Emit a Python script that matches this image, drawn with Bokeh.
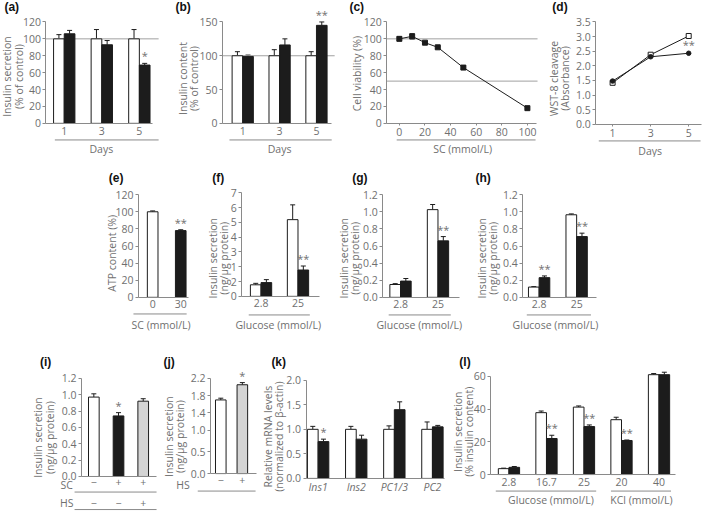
import math
from bokeh.plotting import figure
from bokeh.layouts import row, column
from bokeh.models import (Range1d, FixedTicker, NumeralTickFormatter, Whisker, TeeHead,
                          ColumnDataSource)
from bokeh.core.properties import value
from bokeh.embed import file_html
from bokeh.resources import INLINE

# ---------------- data ----------------
days = ["1", "3", "5"]
a_ctrl = [100, 100, 100]
a_ctrl_err = [5, 11, 11]
a_sc = [106, 93, 69]
a_sc_err = [4, 5, 2]
a_sig = ["", "", "*"]

b_ctrl = [100, 100, 100]
b_ctrl_err = [6, 9, 6]
b_sc = [99, 116, 145]
b_sc_err = [2, 9, 5]
b_sig = ["", "", "**"]

c_conc = [0, 10, 20, 30, 50, 100]
c_viab = [100, 103, 95.5, 90, 66, 18]
c_err = [2, 3, 1, 1, 1.5, 1]

d_ctrl = [1.42, 2.38, 3.02]
d_sc = [1.48, 2.31, 2.43]
d_sig = ["", "", "**"]

e_conc = ["0", "30"]
e_atp = [100, 78]
e_err = [1, 1]
e_sig = ["", "**"]

glucose = ["2.8", "25"]
f_ctrl = [0.78, 5.18]
f_ctrl_err = [0.1, 1.0]
f_sc = [0.93, 1.78]
f_sc_err = [0.2, 0.27]
f_sig = ["", "**"]
f_ytick_labels = ["0", "2", "1", "3", "4", "5", "6", "7"]  # as printed in the figure

g_ctrl = [0.15, 1.025]
g_ctrl_err = [0.01, 0.06]
g_sc = [0.19, 0.66]
g_sc_err = [0.03, 0.05]
g_sig = ["", "**"]

h_ctrl = [0.12, 0.965]
h_ctrl_err = [0.005, 0.01]
h_sc = [0.23, 0.71]
h_sc_err = [0.02, 0.04]
h_sig = ["**", "**"]

i_sc_row = ["\u2212", "+", "+"]
i_hs_row = ["\u2212", "\u2212", "+"]
i_vals = [0.97, 0.74, 0.92]
i_err = [0.04, 0.04, 0.03]
i_sig = ["", "*", ""]

j_hs_row = ["\u2212", "+"]
j_vals = [1.70, 2.05]
j_err = [0.04, 0.05]
j_sig = ["", "*"]

genes = ["Ins1", "Ins2", "PC1/3", "PC2"]
k_ctrl = [1.0, 1.0, 1.0, 1.0]
k_ctrl_err = [0.06, 0.06, 0.07, 0.15]
k_sc = [0.75, 0.80, 1.40, 1.05]
k_sc_err = [0.05, 0.08, 0.16, 0.03]
k_sig = ["*", "", "", ""]

l_conc = ["2.8", "16.7", "25", "20", "40"]
l_ctrl = [3.6, 37.8, 41.2, 33.5, 61.0]
l_ctrl_err = [0.3, 1.0, 0.7, 1.5, 0.7]
l_sc = [4.4, 22.0, 29.3, 20.8, 61.0]
l_sc_err = [0.5, 2.0, 1.0, 0.3, 1.5]
l_sig = ["", "**", "**", "**", ""]

# ---------------- styling ----------------
FONT = "Open Sans"
TXT = "#6f6f6f"
AXC = "#8a8a8a"
INK = "#1c1c1c"
GRAYBAR = "#d4d4d4"
FS = "10.5px"
TITLE_SHIFT = 9   # vertical correction for rotated axis titles (reference px)

SX = 704 / 714
SY = 511 / 524


def px(X):
    return int(round((X - 3) * SX))


def py(Y):
    return int(round((Y - 3) * SY))


class Panel:
    """One panel; its frame covers the whole figure box, axes sit at fixed locations."""

    def __init__(self, box, frame, xmap, ymap, ytop, yticks, yfmt=None, ylabels=None):
        L, R, T, B = box
        fl, fr, ft, fb = frame
        (Xa, va), (Xb, vb) = xmap
        (Ya, ua), (Yb, ub) = ymap
        self.kx = (vb - va) / (Xb - Xa)
        self.ky = (ub - ua) / (Yb - Ya)
        self.Xa, self.va, self.Ya, self.ua = Xa, va, Ya, ua
        p = figure(width=px(R) - px(L), height=py(B) - py(T),
                   x_range=Range1d(self.dx(L), self.dx(R)),
                   y_range=Range1d(self.dy(B), self.dy(T)),
                   min_border_left=0, min_border_right=0,
                   min_border_top=0, min_border_bottom=0,
                   output_backend="svg", toolbar_location=None, title=None)
        p.xgrid.visible = False
        p.ygrid.visible = False
        p.outline_line_color = None
        for ax in (p.xaxis[0], p.yaxis[0]):
            ax.axis_line_color = AXC
            ax.axis_line_width = 1
            ax.major_tick_line_color = AXC
            ax.minor_tick_line_color = None
            ax.major_label_text_font = FONT
            ax.major_label_text_font_size = FS
            ax.major_label_text_color = TXT
        ya = p.yaxis[0]
        ya.fixed_location = self.dx(fl)
        ya.ticker = FixedTicker(ticks=yticks)
        ya.bounds = (0, ytop)
        ya.major_tick_out = 3
        ya.major_tick_in = 0
        ya.major_label_standoff = 2
        if yfmt:
            ya.formatter = NumeralTickFormatter(format=yfmt)
        if ylabels:
            ya.major_label_overrides = {t: s for t, s in zip(yticks, ylabels)}
        xa = p.xaxis[0]
        xa.fixed_location = self.dy(fb)
        xa.bounds = (self.dx(fl), self.dx(fr))
        self.p = p

    def dx(self, X):
        return self.va + (X - self.Xa) * self.kx

    def dy(self, Y):
        return self.ua + (Y - self.Ya) * self.ky

    def xcat(self, labels, standoff=4, italic=False):
        xa = self.p.xaxis[0]
        xa.ticker = FixedTicker(ticks=list(range(len(labels))))
        xa.major_label_overrides = {i: s for i, s in enumerate(labels)}
        xa.major_tick_out = 0
        xa.major_tick_in = 0
        xa.major_label_standoff = standoff
        if italic:
            xa.major_label_text_font_style = "italic"

    def xnum(self, ticks, standoff=3):
        xa = self.p.xaxis[0]
        xa.ticker = FixedTicker(ticks=ticks)
        xa.major_tick_out = 2
        xa.major_tick_in = 0
        xa.major_label_standoff = standoff

    def bars(self, pos, vals, errs, fill, width_px=10.8):
        fills = fill if isinstance(fill, list) else [fill] * len(vals)
        src = ColumnDataSource(dict(x=list(pos), top=vals,
                                    up=[v + e for v, e in zip(vals, errs)], fill=fills))
        self.p.vbar(x="x", top="top", bottom=0, width=width_px * self.kx, source=src,
                    fill_color="fill", line_color=INK, line_width=1)
        self.p.add_layout(Whisker(source=src, base="x", lower="top", upper="up",
                                  line_color=INK, line_width=1, lower_head=None,
                                  upper_head=TeeHead(size=5, line_color=INK, line_width=1)))

    def stars(self, pos, vals, errs, sig):
        src = ColumnDataSource(dict(x=list(pos), y=[v + e for v, e in zip(vals, errs)], t=sig))
        self.p.text(x="x", y="y", text="t", source=src, text_align="center",
                    text_baseline="bottom", text_font=value(FONT),
                    text_font_size=value("11px"), text_color=TXT)

    def row_labels(self, pos, Y, texts):
        src = ColumnDataSource(dict(x=list(pos), y=[self.dy(Y)] * len(texts), t=texts))
        self.p.text(x="x", y="y", text="t", source=src, text_align="center",
                    text_baseline="middle", text_font=value(FONT),
                    text_font_size=value(FS), text_color=TXT)

    def label(self, X, Y, s, align="center", size=FS, color=TXT, angle=0,
              style="normal", font=FONT):
        self.p.text(x=[self.dx(X)], y=[self.dy(Y)], text=[s], text_align=align,
                    text_baseline="middle", angle=angle, text_font=value(font),
                    text_font_size=value(size), text_color=color,
                    text_font_style=style)

    def tag(self, X, Y, s):
        self.label(X, Y, s, align="left", size="12px", color="#111111",
                   font="Liberation Sans", style="bold")

    def ytitle(self, X, Y, lines, gap=11.5):
        n = len(lines)
        for i, s in enumerate(lines):
            self.label(X + (i - (n - 1) / 2) * gap, Y + TITLE_SHIFT, s, angle=math.pi / 2)

    def line(self, X1, X2, Y):
        self.p.segment(x0=[self.dx(X1)], y0=[self.dy(Y)], x1=[self.dx(X2)], y1=[self.dy(Y)],
                       line_color=AXC, line_width=1)

    def hline(self, v, X1, X2):
        self.p.segment(x0=[self.dx(X1)], y0=[v], x1=[self.dx(X2)], y1=[v],
                       line_color="#a0a0a0", line_width=1)


def dodge(n, P):
    off = 5.4 * P.kx
    return [i - off for i in range(n)], [i + off for i in range(n)]


SEC_NG = ["Insulin secretion", "(ng/\u03bcg protein)"]

# ---------------- (a) ----------------
A = Panel((3, 174, 3, 164), (49, 157, 21, 129), ((67.5, 0), (143.5, 2)),
          ((129, 0), (25, 120)), 120, list(range(0, 121, 20)))
A.xcat(days)
A.hline(100, 49, 163)
wa, ba = dodge(len(days), A)
A.bars(wa, a_ctrl, a_ctrl_err, "white")
A.bars(ba, a_sc, a_sc_err, INK)
A.stars(ba, a_sc, a_sc_err, a_sig)
A.tag(7, 10, "(a)")
A.ytitle(15.5, 72, ["Insulin secretion", "(% of control)"])
A.line(58, 163, 146)
A.label(105, 155, "Days")

# ---------------- (b) ----------------
B = Panel((174, 351, 3, 164), (228, 339, 21, 129), ((248.5, 0), (323.5, 2)),
          ((129, 0), (25, 150)), 150, [0, 50, 100, 150])
B.xcat(days)
B.hline(100, 228, 342)
wb, bb = dodge(len(days), B)
B.bars(wb, b_ctrl, b_ctrl_err, "white")
B.bars(bb, b_sc, b_sc_err, INK)
B.stars(bb, b_sc, b_sc_err, b_sig)
B.tag(180, 10, "(b)")
B.ytitle(193, 74, ["Insulin content", "(% of control)"])
B.line(235, 339, 146)
B.label(286, 155, "Days")

# ---------------- (c) ----------------
C = Panel((351, 551, 3, 164), (395, 547, 21, 129), ((407.7, 0), (537.7, 100)),
          ((129, 0), (25, 120)), 120, list(range(0, 121, 20)))
C.xnum(list(range(0, 101, 20)))
C.hline(100, 395, 548)
C.hline(50, 395, 548)
C.p.line(c_conc, c_viab, line_color=INK, line_width=1)
csrc = ColumnDataSource(dict(x=c_conc, lo=[v - e for v, e in zip(c_viab, c_err)],
                             hi=[v + e for v, e in zip(c_viab, c_err)]))
C.p.add_layout(Whisker(source=csrc, base="x", lower="lo", upper="hi", line_color=INK,
                       lower_head=TeeHead(size=5, line_color=INK),
                       upper_head=TeeHead(size=5, line_color=INK), level="glyph"))
C.p.scatter(c_conc, c_viab, marker="square", size=5, fill_color=INK, line_color=INK)
C.tag(357, 10, "(c)")
C.ytitle(365, 69, ["Cell viability (%)"])
C.line(405, 546, 146)
C.label(472, 155, "SC (mmol/L)")

# ---------------- (d) ----------------
D = Panel((551, 717, 3, 164), (607, 714, 21, 130), ((624, 1), (701, 5)),
          ((130, 0), (25, 3.5)), 3.5, [k * 0.5 for k in range(8)], yfmt="0.0")
dnum = [int(d) for d in days]
D.xnum(dnum)
D.p.line(dnum, d_ctrl, line_color=INK, line_width=1)
D.p.line(dnum, d_sc, line_color=INK, line_width=1)
D.p.scatter(dnum, d_ctrl, marker="square", size=5, fill_color="white", line_color=INK)
D.p.scatter(dnum, d_sc, marker="circle", size=4.5, fill_color=INK, line_color=INK)
D.stars(dnum, d_sc, [0.04] * 3, d_sig)
D.tag(563, 10, "(d)")
D.ytitle(570, 74, ["WST-8 cleavage", "(Absorbance)"])
D.line(610, 713, 147)
D.label(662, 157, "Days")

# ---------------- (e) ----------------
E = Panel((3, 202, 164, 345), (143, 194, 196, 307), ((157.5, 0), (186, 1)),
          ((307, 0), (202, 120)), 120, list(range(0, 121, 20)))
E.xcat(e_conc, standoff=3)
E.bars(range(len(e_conc)), e_atp, e_err, ["white", INK])
E.stars(range(len(e_conc)), e_atp, e_err, e_sig)
E.tag(113, 185, "(e)")
E.ytitle(116, 253, ["ATP content (%)"])
E.line(138, 192, 324)
E.label(166, 335, "SC (mmol/L)")

# ---------------- (f) ----------------
F = Panel((202, 339, 164, 345), (248, 327, 196, 306), ((267.5, 0), (305, 1)),
          ((306, 0), (200, 7)), 7, list(range(8)), ylabels=f_ytick_labels)
F.xcat(glucose, standoff=3)
wf, bf = dodge(len(glucose), F)
F.bars(wf, f_ctrl, f_ctrl_err, "white")
F.bars(bf, f_sc, f_sc_err, INK)
F.stars(bf, f_sc, f_sc_err, f_sig)
F.tag(218, 185, "(f)")
F.ytitle(224, 258, SEC_NG)
F.line(255, 317, 325)
F.label(285, 335, "Glucose (mmol/L)")

# ---------------- (g) ----------------
G = Panel((339, 481, 164, 345), (391, 469, 196, 307), ((409, 0), (447, 1)),
          ((307, 0), (202, 1.2)), 1.2, [round(0.2 * k, 1) for k in range(7)], yfmt="0.0")
G.xcat(glucose, standoff=3)
wg, bg = dodge(len(glucose), G)
G.bars(wg, g_ctrl, g_ctrl_err, "white")
G.bars(bg, g_sc, g_sc_err, INK)
G.stars(bg, g_sc, g_sc_err, g_sig)
G.tag(360, 185, "(g)")
G.ytitle(357, 258, SEC_NG)
G.line(397, 460, 325)
G.label(428, 335, "Glucose (mmol/L)")

# ---------------- (h) ----------------
H = Panel((481, 717, 164, 345), (533, 608, 196, 307), ((549.5, 0), (587.5, 1)),
          ((307, 0), (202, 1.2)), 1.2, [round(0.2 * k, 1) for k in range(7)], yfmt="0.0")
H.xcat(glucose, standoff=3)
wh, bh = dodge(len(glucose), H)
H.bars(wh, h_ctrl, h_ctrl_err, "white")
H.bars(bh, h_sc, h_sc_err, INK)
H.stars(bh, h_sc, h_sc_err, h_sig)
H.tag(485, 185, "(h)")
H.ytitle(497, 258, SEC_NG)
H.line(537, 602, 325)
H.label(566, 335, "Glucose (mmol/L)")

# ---------------- (i) ----------------
I = Panel((3, 165, 345, 527), (85, 161, 386, 491), ((97.5, 0), (147.5, 2)),
          ((491, 0), (390, 1.2)), 1.2, [round(0.2 * k, 1) for k in range(7)], yfmt="0.0")
I.xcat(i_sc_row, standoff=2)
ipos = list(range(len(i_vals)))
I.bars(ipos, i_vals, i_err, ["white", INK, GRAYBAR])
I.stars(ipos, i_vals, i_err, i_sig)
I.label(70, 500, "SC")
I.line(78, 161, 507)
I.row_labels(ipos, 518, i_hs_row)
I.label(70, 518, "HS")
I.line(78, 161, 525)
I.tag(43, 373, "(i)")
I.ytitle(47, 442, SEC_NG)

# ---------------- (j) ----------------
J = Panel((165, 266, 345, 527), (216, 263, 386, 488), ((226.5, 0), (248.5, 1)),
          ((488, 0), (390, 2.2)), 2.2, [0, 0.5, 1.0, 1.4, 1.8, 2.2], yfmt="0.0")
J.xcat(j_hs_row, standoff=2)
jpos = list(range(len(j_vals)))
J.bars(jpos, j_vals, j_err, ["white", GRAYBAR])
J.stars(jpos, j_vals, j_err, j_sig)
J.label(188, 500, "HS")
J.line(203, 262, 506)
J.tag(168, 373, "(j)")
J.ytitle(179, 441, SEC_NG)

# ---------------- (k) ----------------
K = Panel((266, 458, 345, 527), (313, 453, 386, 493), ((325.25, 0), (440.75, 3)),
          ((493, 0), (392, 2.0)), 2.0, [0, 0.5, 1.0, 1.5, 2.0], yfmt="0.0")
K.xcat(genes, standoff=2, italic=True)
wk, bk = dodge(len(genes), K)
K.bars(wk, k_ctrl, k_ctrl_err, "white")
K.bars(bk, k_sc, k_sc_err, INK)
K.stars(bk, k_sc, k_sc_err, k_sig)
K.tag(278, 373, "(k)")
K.ytitle(280, 441, ["Relative mRNA levels", "(normalized to \u03b2-actin)"])

# ---------------- (l) ----------------
Lp = Panel((458, 717, 345, 527), (500, 688, 382, 489), ((518.4, 0), (670.8, 4)),
           ((489, 0), (388, 60)), 60, [0, 20, 40, 60])
Lp.xcat(l_conc, standoff=3)
wl, bl = dodge(len(l_conc), Lp)
Lp.bars(wl, l_ctrl, l_ctrl_err, "white")
Lp.bars(bl, l_sc, l_sc_err, INK)
Lp.stars(bl, l_sc, l_sc_err, l_sig)
Lp.tag(468, 373, "(l)")
Lp.ytitle(472, 436, ["Insulin secretion", "(% insulin content)"])
Lp.line(505, 607, 506)
Lp.label(561, 515, "Glucose (mmol/L)")
Lp.line(622, 683, 506)
Lp.label(653, 515, "KCl (mmol/L)")

layout = column(row(A.p, B.p, C.p, D.p),
                row(E.p, F.p, G.p, H.p),
                row(I.p, J.p, K.p, Lp.p))

open("out.html", "w").write(file_html(layout, INLINE))
